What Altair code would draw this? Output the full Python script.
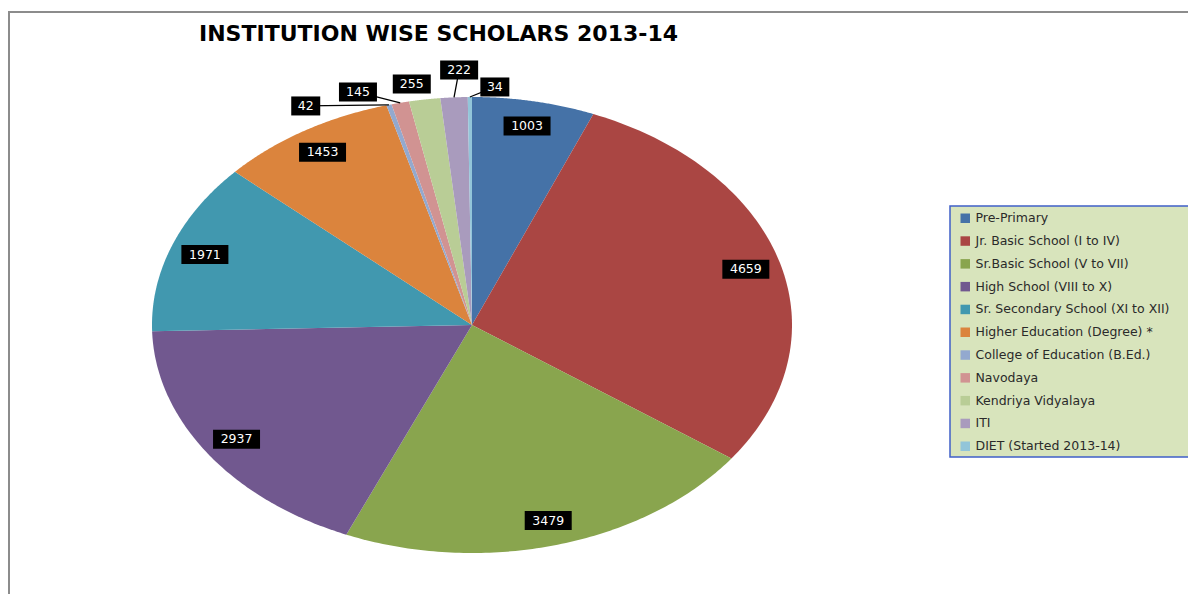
import altair as alt
import pandas as pd

TITLE = "INSTITUTION WISE SCHOLARS 2013-14"

categories = [
    "Pre-Primary",
    "Jr. Basic School (I to IV)",
    "Sr.Basic School (V to VII)",
    "High School (VIII to X)",
    "Sr. Secondary School (XI to XII)",
    "Higher Education (Degree) *",
    "College of Education (B.Ed.)",
    "Navodaya",
    "Kendriya Vidyalaya",
    "ITI",
    "DIET (Started 2013-14)",
]
values = [1003, 4659, 3479, 2937, 1971, 1453, 42, 145, 255, 222, 34]
colors = ["#4572A7", "#AA4643", "#89A54E", "#71588F", "#4198AF", "#DB843D",
          "#93A9CF", "#D19392", "#B9CD96", "#A99BBD", "#92C5D9"]

# manual nudges of the outside labels (like dragged Excel labels), in radius units
outside_shift = {
    "College of Education (B.Ed.)": (-0.26, -0.005),
    "Navodaya": (-0.132, 0.047),
    "Kendriya Vidyalaya": (-0.04, 0.068),
    "ITI": (0.016, 0.12),
    "DIET (Started 2013-14)": (0.078, 0.044),
}
leaders = ["College of Education (B.Ed.)", "Navodaya", "ITI", "DIET (Started 2013-14)"]

df = pd.DataFrame({
    "category": categories,
    "value": values,
    "idx": list(range(len(categories))),
    "outside": [c in outside_shift for c in categories],
    "ndx": [outside_shift.get(c, (0, 0))[0] for c in categories],
    "ndy": [outside_shift.get(c, (0, 0))[1] for c in categories],
    "leader": [c in leaders for c in categories],
})

W, H = 1180, 586
xs = alt.Scale(domain=[-1, 1], range=[144, 784], nice=False, zero=False)
ys = alt.Scale(domain=[-1, 1], range=[545, 89], nice=False, zero=False)

base = (
    alt.Chart(df)
    .transform_window(cum="sum(value)", sort=[alt.SortField("idx")], frame=[None, 0])
    .transform_joinaggregate(total="sum(value)")
    .transform_calculate(a0="2*PI*(datum.cum-datum.value)/datum.total")
    .transform_calculate(a1="2*PI*datum.cum/datum.total")
    .transform_calculate(am="(datum.a0+datum.a1)/2")
)

N = 100
slices = (
    base.transform_calculate(steps=f"sequence(0, {N + 2})")
    .transform_flatten(["steps"], as_=["t"])
    .transform_calculate(ang=f"datum.a0 + (datum.a1-datum.a0)*(datum.t-1)/{N}")
    .transform_calculate(px="datum.t==0 ? 0 : sin(datum.ang)",
                         py="datum.t==0 ? 0 : cos(datum.ang)")
    .mark_line(filled=True, interpolate="linear-closed", strokeWidth=0)
    .encode(
        x=alt.X("px:Q", scale=xs, axis=None),
        y=alt.Y("py:Q", scale=ys, axis=None),
        color=alt.Color(
            "category:N",
            scale=alt.Scale(domain=categories, range=colors),
            legend=alt.Legend(
                title=None, orient="none", legendX=951, legendY=204,
                symbolType="square", symbolSize=90, symbolStrokeWidth=0,
                symbolOpacity=1,
                labelFont="DejaVu Sans", labelFontSize=12.5, labelColor="#2a2a2a",
                labelOffset=4, rowPadding=9.8, padding=0, labelLimit=400,
            ),
        ),
        order=alt.Order("t:Q"),
    )
)

lbl = (
    base.transform_calculate(
        lx="datum.outside ? sin(datum.am) + datum.ndx : 0.89*sin(datum.am)",
        ly="datum.outside ? cos(datum.am) + datum.ndy : 0.89*cos(datum.am)",
        ex="sin(datum.am)",
        ey="cos(datum.am)",
        label="format(datum.value, 'd')",
    )
    .transform_calculate(w="format(0.55 + 0.45*length(datum.label), '.2f')")
    .transform_calculate(box="'M-' + datum.w + ',-0.95H' + datum.w + 'V0.95H-' + datum.w + 'Z'")
)

leader_lines = lbl.transform_filter("datum.leader").mark_rule(color="black", strokeWidth=1.3).encode(
    x=alt.X("lx:Q", scale=xs, axis=None),
    y=alt.Y("ly:Q", scale=ys, axis=None),
    x2="ex:Q",
    y2="ey:Q",
)

boxes = lbl.mark_point(filled=True, color="black", opacity=1, size=400, strokeWidth=0).encode(
    x=alt.X("lx:Q", scale=xs, axis=None),
    y=alt.Y("ly:Q", scale=ys, axis=None),
    shape=alt.Shape("box:N", scale=None),
)

texts = lbl.mark_text(color="white", font="DejaVu Sans", fontSize=12.5, align="center", baseline="middle").encode(
    x=alt.X("lx:Q", scale=xs, axis=None),
    y=alt.Y("ly:Q", scale=ys, axis=None),
    text="label:N",
)

one = pd.DataFrame({"a": [0]})
border = alt.Chart(one).mark_rule(color="#8c8c8c", strokeWidth=2).encode(
    x=alt.value(0), x2=alt.value(W), y=alt.value(4), y2=alt.value(4))
border_left = alt.Chart(one).mark_rule(color="#8c8c8c", strokeWidth=2).encode(
    x=alt.value(1), x2=alt.value(1), y=alt.value(4), y2=alt.value(H))
legend_bg = alt.Chart(one).mark_rect(fill="#d8e4bc", stroke="#3f5fc8", strokeWidth=1.5).encode(
    x=alt.value(942), x2=alt.value(W + 10), y=alt.value(198), y2=alt.value(449))
title = alt.Chart(pd.DataFrame({"t": [TITLE]})).mark_text(
    font="DejaVu Sans", fontSize=22, fontWeight="bold", color="black",
    align="left", baseline="alphabetic").encode(
    text="t:N", x=alt.value(191), y=alt.value(33))

chart = (
    alt.layer(border, border_left, legend_bg, slices, leader_lines, boxes, texts, title)
    .properties(width=W, height=H, autosize=alt.AutoSizeParams(type="none"), padding=0)
    .configure_view(stroke=None)
)

chart.save("out.html", embed_options={"renderer": "svg", "actions": False})
